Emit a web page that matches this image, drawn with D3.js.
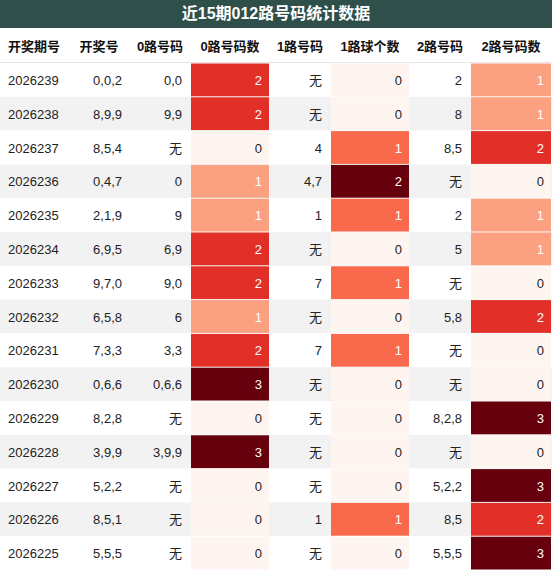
<!DOCTYPE html>
<html><head><meta charset="utf-8">
<script src="https://cdn.jsdelivr.net/npm/d3@7"></script>
<style>body{margin:0;background:#fff;font-family:"Liberation Sans","Noto Sans CJK SC",sans-serif}</style>
</head><body>
<svg id="c" width="552" height="570"></svg>
<script>
const title = '近15期012路号码统计数据'
const headers = ['开奖期号','开奖号','0路号码','0路号码数','1路号码','1路球个数','2路号码','2路号码数']
const issues = ['2026239','2026238','2026237','2026236','2026235','2026234','2026233','2026232','2026231','2026230','2026229','2026228','2026227','2026226','2026225']
const draws = ['0,0,2','8,9,9','8,5,4','0,4,7','2,1,9','6,9,5','9,7,0','6,5,8','7,3,3','0,6,6','8,2,8','3,9,9','5,2,2','8,5,1','5,5,5']
const road0 = ['0,0','9,9','无','0','9','6,9','9,0','6','3,3','0,6,6','无','3,9,9','无','无','无']
const road0n = [2,2,0,1,1,2,2,1,2,3,0,3,0,0,0]
const road1 = ['无','无','4','4,7','1','无','7','无','7','无','无','无','无','1','无']
const road1n = [0,0,1,2,1,0,1,0,1,0,0,0,0,1,0]
const road2 = ['2','8','8,5','无','2','5','无','5,8','无','无','8,2,8','无','5,2,2','8,5','5,5,5']
const road2n = [1,1,2,0,1,1,0,2,0,0,3,0,3,2,3]

const cols = [issues, draws, road0, road0n, road1, road1n, road2, road2n]
const heat = [false,false,false,true,false,true,false,true]
const edges = [0,68,130,190,270,330,410,470,552]

const svg = d3.select('#c')
const titleH = 28, headY = 28, headH = 35, rowH = 33.8

svg.append('rect').attr('width',552).attr('height',titleH).attr('fill','#2f4f4a')
svg.append('text').attr('x',276).attr('y',19).attr('text-anchor','middle')
    .attr('fill','#fff').style('font-size','16px').style('font-weight','bold').text(title)

// header
headers.forEach((h,i) => {
    svg.append('text').attr('x',(edges[i]+edges[i+1])/2).attr('y',headY+headH/2+5)
        .attr('text-anchor','middle').style('font-size','13px').style('font-weight','bold').attr('fill','#111').text(h)
})
svg.append('line').attr('x1',0).attr('x2',552).attr('y1',headY+headH).attr('y2',headY+headH).attr('stroke','#ccc')

const y = i => headY + headH + i*rowH

issues.forEach((_,r) => {
    svg.append('rect').attr('x',0).attr('y',y(r)).attr('width',552).attr('height',rowH)
        .attr('fill', r % 2 ? '#f2f2f2' : '#fff')
})

cols.forEach((col,c) => {
    let color = null
    if (heat[c]) color = d3.scaleSequential(d3.interpolateReds).domain([0, d3.max(col)])
    col.forEach((v,r) => {
        if (color) {
            svg.append('rect').attr('x',edges[c]+1).attr('y',y(r)+0.5).attr('width',edges[c+1]-edges[c]-2)
                .attr('height',rowH-1).attr('fill',color(v))
        }
        const right = c > 0
        svg.append('text')
            .attr('x', right ? edges[c+1]-8 : edges[c]+8)
            .attr('y', y(r)+rowH/2+5)
            .attr('text-anchor', right ? 'end' : 'start')
            .style('font-size','13px')
            .attr('fill', color && v > 0 ? '#fff' : '#222')
            .text(v)
    })
})
</script>
</body></html>
